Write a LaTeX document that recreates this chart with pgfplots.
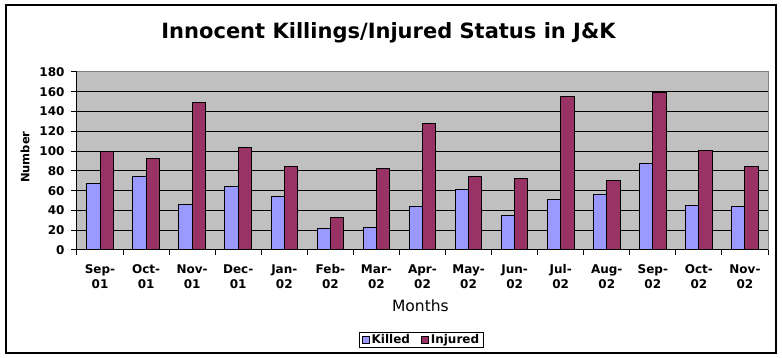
\documentclass[border=0pt]{standalone}
\usepackage{fontspec}
\setmainfont{DejaVu Sans}
\usepackage{pgfplots}
\pgfplotsset{compat=1.18}
\definecolor{killed}{HTML}{9999FF}
\definecolor{injured}{HTML}{993366}
\definecolor{plotbg}{HTML}{C0C0C0}
\definecolor{plotborder}{HTML}{808080}
\begin{document}
\begin{tikzpicture}[x=1pt,y=1pt]
\useasboundingbox (0,0) rectangle (782,358);
\draw[black, line width=1.5pt] (6,5) rectangle (776,353);
\begin{axis}[
  at={(77pt,108pt)}, anchor=south west,
  scale only axis, width=691pt, height=178pt,
  ybar=0pt, bar width=13.3pt,
  xmin=-0.5, xmax=14.5, ymin=0, ymax=180,
  axis background/.style={fill=plotbg, draw=plotborder, line width=1pt},
  axis x line*=bottom, axis y line*=left,
  axis line style={black, line width=1pt},
  xtick={0,...,14},
  xticklabels={{Sep-\\01},{Oct-\\01},{Nov-\\01},{Dec-\\01},{Jan-\\02},{Feb-\\02},{Mar-\\02},{Apr-\\02},{May-\\02},{Jun-\\02},{Jul-\\02},{Aug-\\02},{Sep-\\02},{Oct-\\02},{Nov-\\02}},
  x tick label style={align=center, font=\fontsize{12}{15}\selectfont\bfseries, yshift=-5pt},
  major x tick style={draw=none},
  minor xtick={-0.5,0.5,...,14.5},
  minor x tick style={black, line width=1pt},
  minor tick length=5pt,
  tick align=outside,
  ytick={0,20,...,180},
  major y tick style={black, line width=1pt},
  major tick length=6pt,
  y tick label style={font=\fontsize{12}{14}\selectfont\bfseries, xshift=-3pt},
  /pgf/number format/assume math mode=true,
  extra y ticks={20,40,...,160},
  extra y tick labels={},
  extra y tick style={ymajorgrids=true, major grid style={black, line width=1pt}, major tick length=0pt},
  xlabel={Months},
  xlabel style={at={(axis description cs:0.497,0)}, anchor=base, yshift=-61.7pt, font=\fontsize{15.5}{18}\selectfont},
  ylabel={Number},
  ylabel style={at={(axis description cs:-0.0753,0.522)}, anchor=center, rotate=0, font=\fontsize{11.5}{13}\selectfont\bfseries},
  title={Innocent Killings/Injured Status in J\&K},
  title style={at={(axis description cs:0.4508,1)}, anchor=base, yshift=27pt, font=\fontsize{21}{24}\selectfont\bfseries},
  legend style={at={(axis description cs:0.4986,-0.5056)}, anchor=center, draw=black, line width=1pt,
    font=\fontsize{12}{14}\selectfont\bfseries, inner xsep=2pt, inner ysep=0.5pt,
    /tikz/every even column/.append style={column sep=9pt}},
  legend columns=2,
  legend image code/.code={\draw[#1, line width=0.8pt] (0pt,-3.5pt) rectangle (7pt,3.5pt);},
]
\addplot[fill=killed, draw=black, line width=1pt] coordinates {
(0,67) (1,74) (2,46) (3,64) (4,54) (5,22) (6,23) (7,44) (8,61) (9,35) (10,51) (11,56) (12,87) (13,45) (14,44)};
\addplot[fill=injured, draw=black, line width=1pt] coordinates {
(0,100) (1,93) (2,149) (3,104) (4,84) (5,33) (6,82) (7,128) (8,74) (9,72) (10,155) (11,70) (12,159) (13,101) (14,84)};
\legend{Killed,Injured}
\end{axis}
\end{tikzpicture}
\end{document}
